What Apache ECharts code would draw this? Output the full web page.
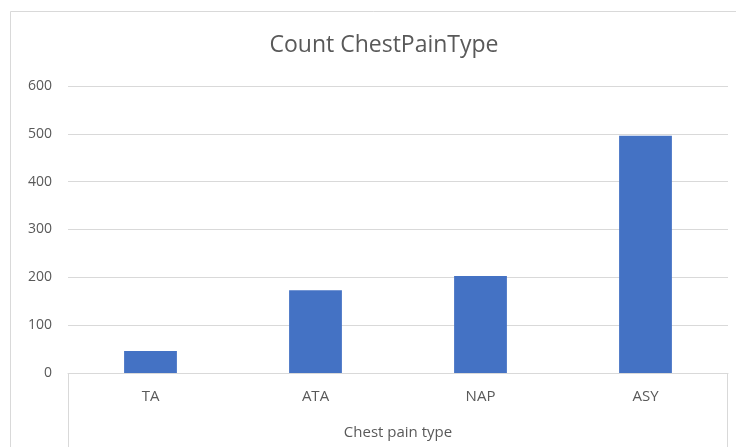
<!DOCTYPE html>
<html>
<head>
<meta charset="utf-8">
<script src="https://cdn.jsdelivr.net/npm/echarts@6/dist/echarts.min.js"></script>
<style>
	html, body { margin: 0; padding: 0; background: #fff; }
	#chart { width: 736px; height: 447px; }
</style>
</head>
<body>
<div id="chart"></div>
<script>
var categories = ['TA', 'ATA', 'NAP', 'ASY'];
var counts = [46, 173, 203, 496];
var yTicks = [0, 100, 200, 300, 400, 500, 600];

var font = '"Liberation Sans Narrow", "Open Sans", sans-serif';
var textColor = '#595959';
var lineColor = '#d9d9d9';

var chart = echarts.init(document.getElementById('chart'));

chart.setOption({
	animation: false,
	backgroundColor: '#fff',
	textStyle: { fontFamily: font },
	title: {
		text: 'Count ChestPainType',
		left: 379,
		textAlign: 'center',
		top: 29,
		textStyle: {
			fontFamily: font,
			fontSize: 23,
			fontWeight: 'normal',
			color: textColor
		}
	},
	grid: {
		left: 68,
		right: 8,
		top: 86,
		bottom: 74,
		containLabel: false
	},
	// chart border and the box round the category labels
	graphic: [
		{
			type: 'rect',
			shape: { x: 10.5, y: 11.5, width: 800, height: 500 },
			style: { fill: 'none', stroke: lineColor, lineWidth: 1 },
			silent: true
		},
		{
			type: 'rect',
			shape: { x: 68.5, y: 373.5, width: 659, height: 120 },
			style: { fill: 'none', stroke: lineColor, lineWidth: 1 },
			silent: true
		}
	],
	xAxis: {
		type: 'category',
		data: categories,
		name: 'Chest pain type',
		nameLocation: 'middle',
		nameGap: 52,
		nameTextStyle: { fontFamily: font, fontSize: 15, color: textColor },
		axisLine: { show: true, lineStyle: { color: lineColor, width: 1 } },
		axisTick: { show: false },
		axisLabel: {
			margin: 16,
			fontFamily: font,
			fontSize: 15,
			color: textColor
		}
	},
	yAxis: {
		type: 'value',
		min: yTicks[0],
		max: yTicks[yTicks.length - 1],
		interval: 100,
		axisLine: { show: false },
		axisTick: { show: false },
		splitLine: { lineStyle: { color: lineColor, width: 1 } },
		axisLabel: {
			margin: 16,
			fontFamily: font,
			fontSize: 14,
			color: textColor
		}
	},
	series: [
		{
			type: 'bar',
			data: counts,
			barWidth: '32%',
			itemStyle: { color: '#4472c4' }
		}
	]
});
</script>
</body>
</html>
